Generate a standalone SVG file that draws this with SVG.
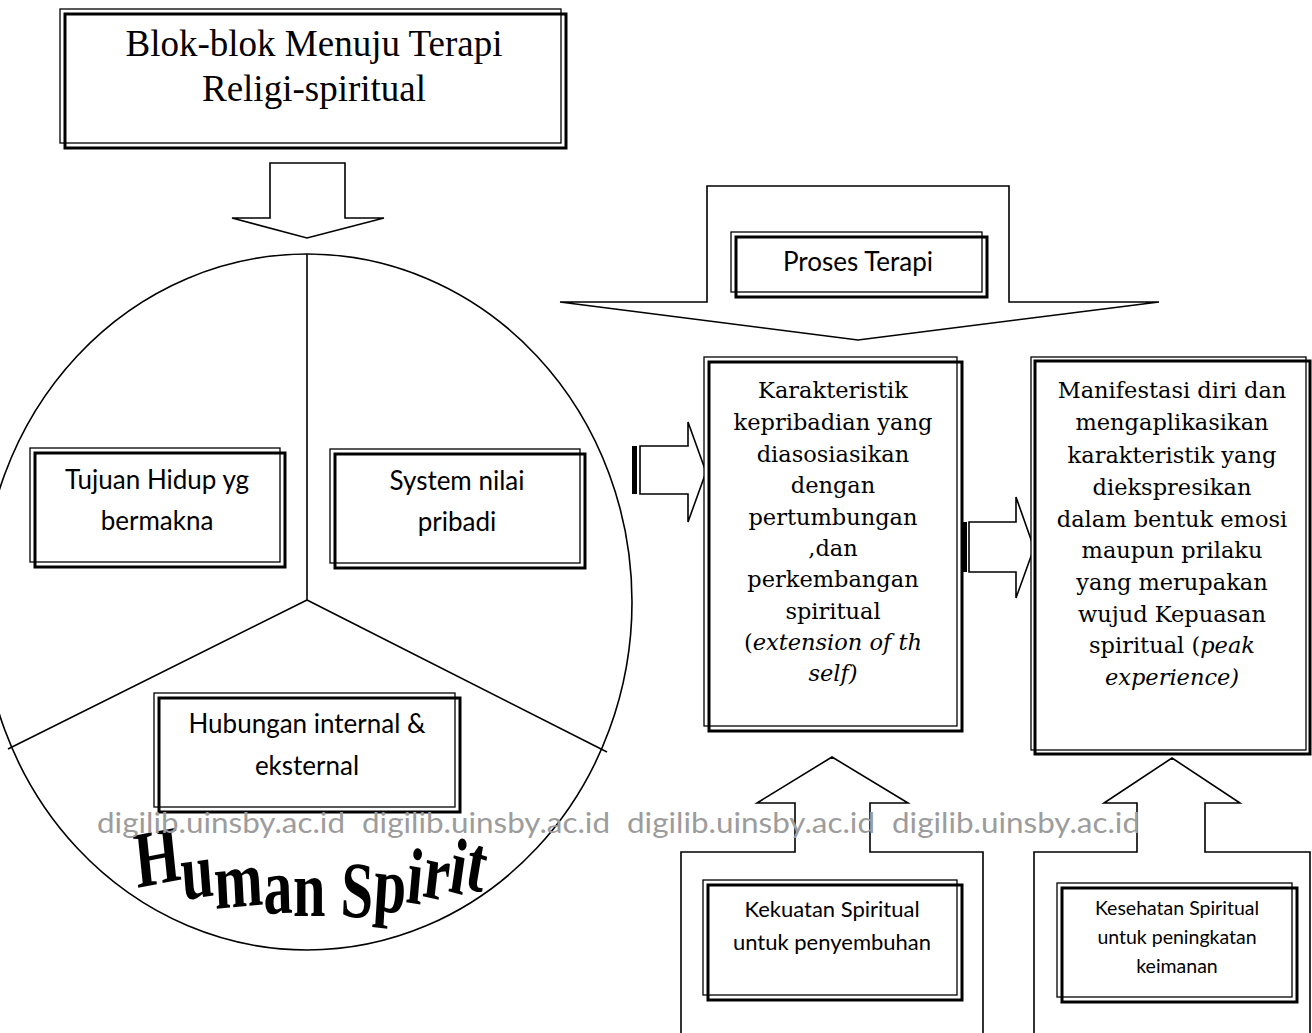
<svg xmlns="http://www.w3.org/2000/svg" width="1312" height="1033" viewBox="0 0 1312 1033">
<style>
.bg{fill:#fff}
.thin{fill:#fff;stroke:#000;stroke-width:1.3}
.thick{fill:none;stroke:#000;stroke-width:3}
.ln{fill:none;stroke:#000;stroke-width:1.6}
.shape{fill:#fff;stroke:#000;stroke-width:1.6;stroke-linejoin:miter}
.sans{font-family:Lato,"Open Sans","Noto Sans",sans-serif;fill:#000;text-anchor:middle}
.cam{font-family:"DejaVu Serif","Liberation Serif",serif;fill:#000;text-anchor:middle;font-size:22.5px}
.times{font-family:"Liberation Serif","Times New Roman",serif;fill:#000}
.wm{font-family:Lato,"Open Sans",sans-serif;fill:#9c9c9c;font-size:28px}
.it{font-style:italic}
</style>
<rect class="bg" x="0" y="0" width="1312" height="1033"/>

<g id="title">
  <rect class="thin" x="60" y="9" width="501" height="134"/>
  <rect class="thick" x="65" y="14" width="501" height="134"/>
  <text class="times" x="314" y="56" font-size="37" text-anchor="middle">Blok-blok Menuju Terapi</text>
  <text class="times" x="314" y="101" font-size="37" text-anchor="middle">Religi-spiritual</text>
</g>

<g id="human-spirit">
  <ellipse class="ln" cx="307" cy="602" rx="325" ry="348"/>
  <path class="ln" d="M307 254 L307 600 M307 600 L8 749 M307 600 L607 752"/>
  <text class="times" transform="scale(0.73,1)" x="188" y="888 900 909 914 916 916 916 910 902 896 891 887" rotate="-8 -6 -4 -2 0 0 3 5 7 9 11 13" font-size="80" font-weight="bold">Human Spirit</text>
</g>

<g id="tujuan">
  <rect class="thin" x="30" y="448" width="250" height="114"/>
  <rect class="thick" x="35" y="453" width="250" height="114"/>
  <text class="sans" x="157" y="489" font-size="26">Tujuan Hidup yg</text>
  <text class="sans" x="157" y="530" font-size="26">bermakna</text>
</g>

<g id="system">
  <rect class="thin" x="330" y="449" width="250" height="114"/>
  <rect class="thick" x="335" y="454" width="250" height="114"/>
  <text class="sans" x="457" y="490" font-size="26">System nilai</text>
  <text class="sans" x="457" y="531" font-size="26">pribadi</text>
</g>

<g id="hubungan">
  <rect class="thin" x="154" y="693" width="301" height="114"/>
  <rect class="thick" x="159" y="698" width="301" height="114"/>
  <text class="sans" x="307" y="733" font-size="26">Hubungan internal &amp;</text>
  <text class="sans" x="307" y="775" font-size="26">eksternal</text>
</g>

<g id="connectors">
  <polygon class="shape" points="270,163 345,163 345,218 384,218 307,238 232,218 270,218"/>
  <polygon class="shape" points="707,186 1009,186 1009,302 1159,302 858,340 560,302 707,302"/>
  <rect x="632" y="446" width="5" height="48" fill="#000"/>
  <polygon class="shape" points="640,446 688,446 688,422 706,472 688,522 688,494 640,494"/>
  <rect x="962" y="522" width="5" height="50" fill="#000"/>
  <polygon class="shape" points="969,522 1016,522 1016,497 1034,548 1016,598 1016,572 969,572"/>
  <polygon class="shape" points="681,1040 681,852 795,852 795,803 757,803 832,757 908,803 870,803 870,852 983,852 983,1040"/>
  <polygon class="shape" points="1034,1040 1034,852 1137,852 1137,803 1104,803 1172,758 1240,803 1205,803 1205,852 1310,852 1310,1040"/>
</g>

<g id="proses">
  <rect class="thin" x="731" y="232" width="251" height="60"/>
  <rect class="thick" x="736" y="237" width="251" height="60"/>
  <text class="sans" x="858" y="271" font-size="26">Proses Terapi</text>
</g>

<g id="karakteristik">
  <rect class="thin" x="704" y="357" width="253" height="369"/>
  <rect class="thick" x="709" y="362" width="253" height="369"/>
  <text class="cam" x="833" y="398">Karakteristik</text>
  <text class="cam" x="833" y="430">kepribadian yang</text>
  <text class="cam" x="833" y="462">diasosiasikan</text>
  <text class="cam" x="833" y="493">dengan</text>
  <text class="cam" x="833" y="525">pertumbungan</text>
  <text class="cam" x="833" y="556">,dan</text>
  <text class="cam" x="833" y="587">perkembangan</text>
  <text class="cam" x="833" y="619">spiritual</text>
  <text class="cam" x="833" y="650">(<tspan class="it">extension of th</tspan></text>
  <text class="cam it" x="833" y="681">self)</text>
</g>

<g id="manifestasi">
  <rect class="thin" x="1031" y="357" width="275" height="393"/>
  <rect class="thick" x="1035" y="361" width="275" height="393"/>
  <text class="cam" x="1172" y="398">Manifestasi diri dan</text>
  <text class="cam" x="1172" y="430">mengaplikasikan</text>
  <text class="cam" x="1172" y="463">karakteristik yang</text>
  <text class="cam" x="1172" y="495">diekspresikan</text>
  <text class="cam" x="1172" y="527">dalam bentuk emosi</text>
  <text class="cam" x="1172" y="558">maupun prilaku</text>
  <text class="cam" x="1172" y="590">yang merupakan</text>
  <text class="cam" x="1172" y="622">wujud Kepuasan</text>
  <text class="cam" x="1172" y="653">spiritual (<tspan class="it">peak</tspan></text>
  <text class="cam it" x="1172" y="685">experience)</text>
</g>

<g id="kekuatan">
  <rect class="thin" x="703" y="880" width="254" height="115"/>
  <rect class="thick" x="708" y="885" width="254" height="115"/>
  <text class="sans" x="832" y="917" font-size="22">Kekuatan Spiritual</text>
  <text class="sans" x="832" y="950" font-size="22">untuk penyembuhan</text>
</g>

<g id="kesehatan">
  <rect class="thin" x="1057" y="883" width="235" height="114"/>
  <rect class="thick" x="1062" y="888" width="235" height="114"/>
  <text class="sans" x="1177" y="915" font-size="19.5">Kesehatan Spiritual</text>
  <text class="sans" x="1177" y="944" font-size="19.5">untuk peningkatan</text>
  <text class="sans" x="1177" y="973" font-size="19.5">keimanan</text>
</g>

<g id="watermark">
  <text class="wm" x="97" y="833" textLength="248" lengthAdjust="spacingAndGlyphs">digilib.uinsby.ac.id</text>
  <text class="wm" x="362" y="833" textLength="248" lengthAdjust="spacingAndGlyphs">digilib.uinsby.ac.id</text>
  <text class="wm" x="627" y="833" textLength="248" lengthAdjust="spacingAndGlyphs">digilib.uinsby.ac.id</text>
  <text class="wm" x="892" y="833" textLength="248" lengthAdjust="spacingAndGlyphs">digilib.uinsby.ac.id</text>
</g>
</svg>
